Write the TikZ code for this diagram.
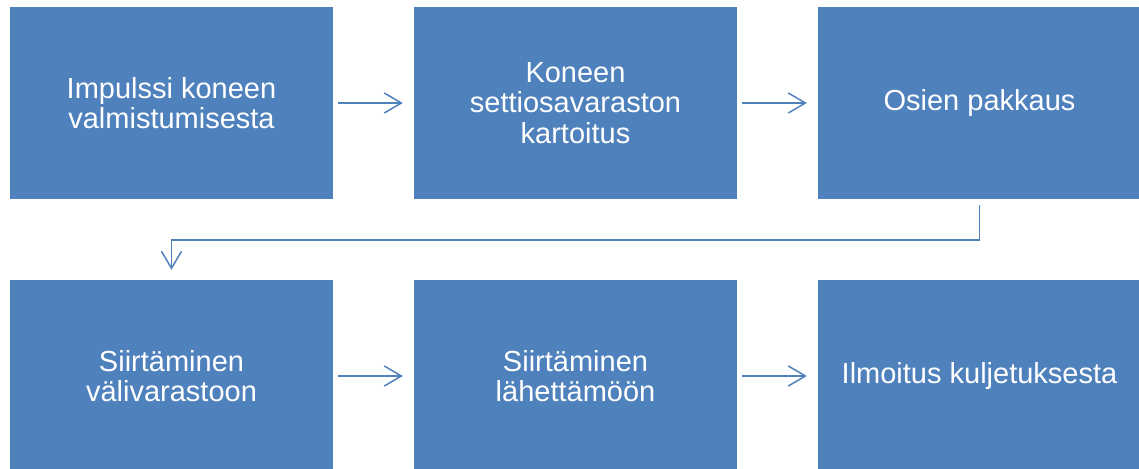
\documentclass[tikz,border=0pt]{standalone}
\usepackage{fontspec}
\setmainfont{Liberation Sans}
\usetikzlibrary{arrows.meta}
\definecolor{boxblue}{HTML}{4F81BD}
\begin{document}
\begin{tikzpicture}[x=1pt,y=-1pt,
  flowbox/.style={fill=boxblue, draw=none, minimum width=323pt, minimum height=192pt,
    inner sep=0pt, text=white, align=center, font=\fontsize{29pt}{30.5pt}\selectfont},
  flowarrow/.style={draw=boxblue, line width=1.5pt,
    -{Straight Barb[length=17pt,width=20pt,line width=1.5pt]}}]
\clip (0,0) rectangle (1139,468);
\fill[white] (0,0) rectangle (1139,468);
\node[flowbox] (b1) at (171.5,103) {Impulssi koneen\\valmistumisesta};
\node[flowbox] (b2) at (575.5,103) {Koneen\\settiosavaraston\\kartoitus};
\node[flowbox] (b3) at (979.5,103) {Osien pakkaus};
\node[flowbox] (b4) at (171.5,376) {Siirtäminen\\välivarastoon};
\node[flowbox] (b5) at (575.5,376) {Siirtäminen\\lähettämöön};
\node[flowbox] (b6) at (979.5,376) {Ilmoitus kuljetuksesta};
\coordinate (mid) at (575.5,240);
\draw[flowarrow, shorten <=5pt, shorten >=11pt] (b1) -- (b2);
\draw[flowarrow, shorten <=5pt, shorten >=11pt] (b2) -- (b3);
\draw[flowarrow, shorten <=5pt, shorten >=11pt] (b4) -- (b5);
\draw[flowarrow, shorten <=5pt, shorten >=11pt] (b5) -- (b6);
\draw[flowarrow, shorten <=6pt, shorten >=10pt] (b3.south) |- (mid) -| (b4.north);
\end{tikzpicture}
\end{document}
